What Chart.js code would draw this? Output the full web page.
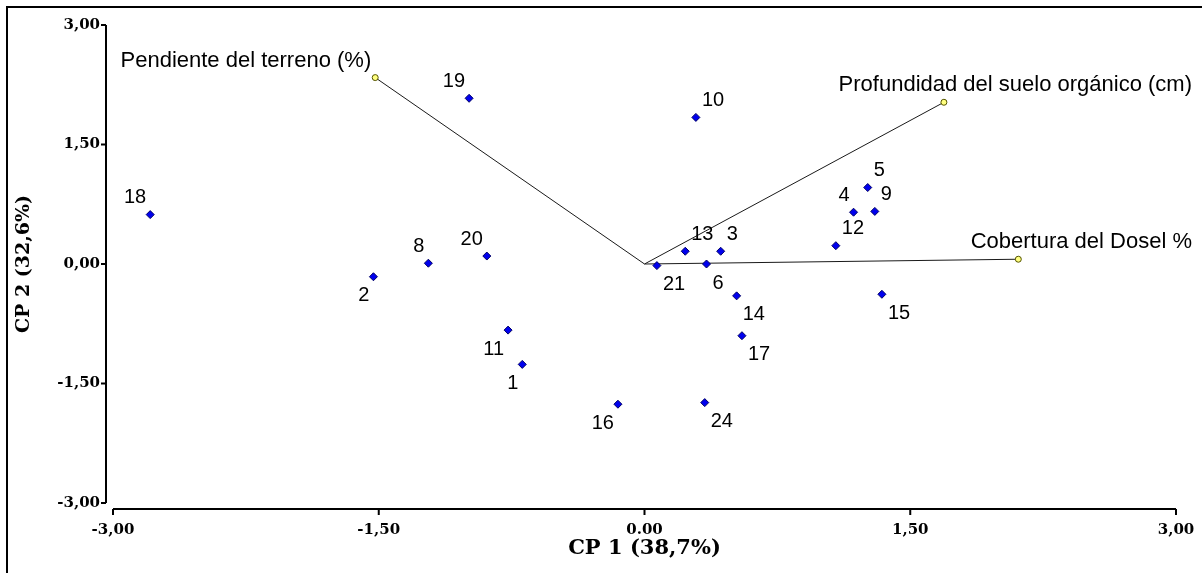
<!DOCTYPE html>
<html>
<head>
<title>Biplot CP1 / CP2</title>
<script src="https://cdn.jsdelivr.net/npm/chart.js"></script>
<style>
  body {
  margin: 0;
  padding: 0;
  background-color: #fff;
}
canvas {
  display: block;
}
</style>
</head>
<body>
<canvas id="chart" width="1202" height="573"></canvas>

<script>
// sitios (scores)
const siteLabels = ['1', '2', '3', '4', '5', '6', '8', '9', '10', '11', '12', '13', '14', '15', '16', '17', '18', '19', '20', '21', '24'];
const siteCp1 = [-0.69, -1.53, 0.43, 1.18, 1.26, 0.35, -1.22, 1.30, 0.29, -0.77, 1.08, 0.23, 0.52, 1.34, -0.15, 0.55, -2.79, -0.99, -0.89, 0.07, 0.34];
const siteCp2 = [-1.26, -0.16, 0.16, 0.65, 0.96, 0.00, 0.01, 0.66, 1.84, -0.83, 0.23, 0.16, -0.40, -0.38, -1.76, -0.90, 0.62, 2.08, 0.10, -0.02, -1.74];

// variables (vectores)
const varLabels = ['Pendiente del terreno (%)', 'Profundidad del suelo orgánico (cm)', 'Cobertura del Dosel %'];
const varCp1 = [-1.52, 1.69, 2.11];
const varCp2 = [2.34, 2.03, 0.06];

// ejes
const tickValues = [-3, -1.5, 0, 1.5, 3];
const xTickLabels = ['-3,00', '-1,50', '0.00', '1,50', '3,00'];
const yTickLabels = ['-3,00', '-1,50', '0,00', '1,50', '3,00'];

// where each site label sits around its point
const labelSide = ['sw', 'sw', 'ne', 'nw', 'ne', 'se', 'nw', 'ne', 'ne', 'sw', 'ne', 'ne', 'se', 'se', 'sw', 'se', 'nw', 'nw', 'nw', 'se', 'se'];
const varLabelSide = ['w', 'edge', 'edge'];

const sitePoints = siteCp1.map((x, i) => ({ x: x, y: siteCp2[i] }));

const vectorSets = varLabels.map((name, i) => ({
  label: name,
  data: [{ x: 0, y: 0 }, { x: varCp1[i], y: varCp2[i] }],
  showLine: true,
  borderColor: '#1a1a1a',
  borderWidth: 1,
  pointRadius: [0, 3],
  pointBackgroundColor: '#ffff80',
  pointBorderColor: '#555500',
  pointBorderWidth: 1
}));

const decorPlugin = {
  id: 'decor',
  beforeDraw(chart) {
    const ctx = chart.ctx;
    ctx.save();
    ctx.fillStyle = '#fff';
    ctx.fillRect(0, 0, chart.width, chart.height);
    ctx.strokeStyle = '#000';
    ctx.lineWidth = 2;
    ctx.beginPath();
    ctx.moveTo(7, chart.height);
    ctx.lineTo(7, 7);
    ctx.lineTo(chart.width, 7);
    ctx.stroke();
    ctx.restore();
  },
  afterDraw(chart) {
    const ctx = chart.ctx;
    const xs = chart.scales.x;
    const ys = chart.scales.y;
    const area = chart.chartArea;
    ctx.save();
    ctx.strokeStyle = '#000';
    ctx.lineWidth = 2;

    // eje y, separado del area
    const ax = area.left - 7;
    ctx.beginPath();
    ctx.moveTo(ax, ys.getPixelForValue(3));
    ctx.lineTo(ax, ys.getPixelForValue(-3));
    tickValues.forEach(v => {
      const py = ys.getPixelForValue(v);
      ctx.moveTo(ax - 5, py);
      ctx.lineTo(ax, py);
    });
    ctx.stroke();

    // eje x
    const ay = area.bottom + 6;
    ctx.beginPath();
    ctx.moveTo(xs.getPixelForValue(-3), ay);
    ctx.lineTo(xs.getPixelForValue(3), ay);
    tickValues.forEach(v => {
      const px = xs.getPixelForValue(v);
      ctx.moveTo(px, ay);
      ctx.lineTo(px, ay + 6);
    });
    ctx.stroke();

    // etiquetas de sitios
    ctx.fillStyle = '#000';
    ctx.font = '20px "Liberation Sans"';
    ctx.textBaseline = 'middle';
    const pts = chart.getDatasetMeta(0).data;
    pts.forEach((el, i) => {
      const side = labelSide[i];
      let x = el.x, y = el.y;
      if (side.indexOf('e') >= 0) { ctx.textAlign = 'left'; x += 6; }
      else { ctx.textAlign = 'right'; x -= 4; }
      y += side.indexOf('n') >= 0 ? -17 : 19;
      ctx.fillText(siteLabels[i], x, y);
    });

    // etiquetas de variables
    ctx.font = '22px "Liberation Sans"';
    varLabels.forEach((name, i) => {
      const el = chart.getDatasetMeta(i + 1).data[1];
      ctx.textAlign = 'right';
      const x = varLabelSide[i] === 'w' ? el.x - 4 : chart.width - 10;
      ctx.fillText(name, x, el.y - 17);
    });
    ctx.restore();
  }
};

new Chart(document.getElementById('chart'), {
  type: 'scatter',
  data: {
    datasets: [{
      label: 'Sitios',
      data: sitePoints,
      pointStyle: 'rectRot',
      pointRadius: 4,
      pointBackgroundColor: '#0000ee',
      pointBorderColor: '#000066',
      pointBorderWidth: 1
    }].concat(vectorSets)
  },
  options: {
    responsive: false,
    animation: false,
    layout: {
      padding: { left: 13, top: 25, right: 26, bottom: 12 }
    },
    plugins: {
      legend: { display: false },
      tooltip: { enabled: false }
    },
    scales: {
      x: {
        type: 'linear',
        min: -3,
        max: 3,
        grid: { display: false, drawTicks: false },
        border: { display: false },
        afterBuildTicks: s => { s.ticks = tickValues.map(v => ({ value: v })); },
        afterFit: s => { s.height = 58; s.paddingLeft = 0; s.paddingRight = 0; },
        ticks: {
          padding: 18,
          color: '#000',
          font: { family: 'DejaVu Serif', size: 15, weight: 'bold' },
          callback: (v, i) => xTickLabels[i]
        },
        title: {
          display: true,
          text: 'CP 1 (38,7%)',
          color: '#000',
          padding: 0,
          font: { family: 'DejaVu Serif', size: 21, weight: 'bold' }
        }
      },
      y: {
        type: 'linear',
        min: -3,
        max: 3,
        grid: { display: false, drawTicks: false },
        border: { display: false },
        afterBuildTicks: s => { s.ticks = tickValues.map(v => ({ value: v })); },
        afterFit: s => { s.width = 100; s.paddingTop = 0; s.paddingBottom = 0; },
        ticks: {
          padding: 13,
          color: '#000',
          font: { family: 'DejaVu Serif', size: 15, weight: 'bold' },
          callback: (v, i) => yTickLabels[i]
        },
        title: {
          display: true,
          text: 'CP 2 (32,6%)',
          color: '#000',
          padding: 0,
          font: { family: 'DejaVu Serif', size: 19, weight: 'bold' }
        }
      }
    }
  },
  plugins: [decorPlugin]
});
</script>
</body>
</html>
